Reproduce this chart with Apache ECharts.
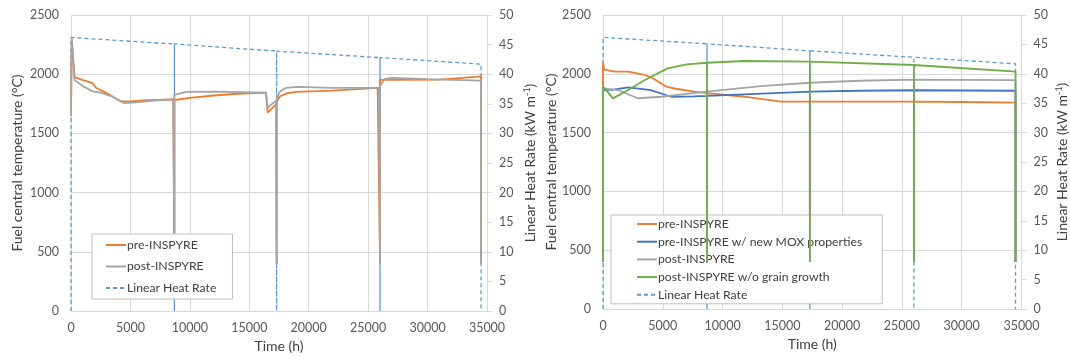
<!DOCTYPE html>
<html>
<head>
<meta charset="utf-8">
<script src="https://cdn.jsdelivr.net/npm/echarts@6/dist/echarts.min.js"></script>
<style>
html,body{margin:0;padding:0;background:#fff;}
#c{width:1070px;height:358px;}
</style>
</head>
<body>
<div id="c"></div>
<script>
// ---- data (time in h, temperature in °C, LHR in kW/m) ----
const xTicks = [0, 5000, 10000, 15000, 20000, 25000, 30000, 35000];

const lhr = [[0,0],[0,46.2],[8700,45.1],[8700,0],[8700,45.1],[17300,43.9],[17300,0],[17300,43.9],
  [26000,42.8],[26000,0],[26000,42.8],[34500,41.7],[34500,0]];

// left panel
const leftPre = [[0,1650],[60,2300],[300,1975],[1000,1950],[1800,1925],[2100,1885],[3000,1840],[4200,1770],
  [5000,1770],[6000,1778],[7000,1783],[8600,1785],[8700,400],[8700,1782],[10000,1800],[12000,1820],
  [14000,1835],[16400,1845],[16550,1675],[16800,1700],[17250,1745],[17300,400],[17300,1765],[17550,1812],
  [18200,1840],[19000,1850],[22000,1862],[25800,1885],[26000,400],[26000,1952],[27900,1952],[28000,1938],
  [31000,1955],[34000,1978],[34500,1982],[34500,400]];
const leftPost = [[0,1650],[60,2300],[300,1950],[1000,1900],[1800,1855],[2500,1845],[3500,1810],[4500,1755],
  [5500,1762],[7000,1778],[8600,1790],[8700,400],[8700,1825],[9700,1850],[12000,1852],[16400,1845],
  [16550,1715],[16800,1740],[17250,1775],[17300,400],[17300,1800],[17600,1855],[18100,1885],[19000,1893],
  [22000,1885],[25900,1885],[26000,400],[26000,1900],[26400,1960],[27000,1968],[30000,1958],[34500,1945],[34500,400]];

// right panel
const rightPre = [[0,400],[0,2100],[100,2035],[1000,2018],[2100,2018],[3500,1990],[4200,1960],[5300,1890],
  [6000,1875],[7600,1848],[8700,1835],[8700,400],[8700,1835],[11800,1805],[14900,1763],[17300,1763],
  [17300,400],[17300,1763],[26000,1763],[26000,400],[26000,1763],[30000,1760],[34500,1755],[34500,400]];
const rightPreMox = [[0,400],[0,1860],[1000,1868],[2100,1885],[4000,1862],[5700,1805],[7600,1808],[8700,1812],
  [8700,400],[8700,1812],[11800,1825],[17300,1848],[17300,400],[17300,1848],[21500,1856],[26000,1860],
  [26000,400],[26000,1860],[34500,1856],[34500,400]];
const rightPost = [[0,400],[0,1875],[1250,1862],[2900,1792],[4900,1805],[8700,1848],[8700,400],[8700,1848],
  [13200,1896],[17300,1924],[17300,400],[17300,1924],[21500,1941],[26000,1950],[26000,400],[26000,1950],
  [34500,1947],[34500,400]];
const rightPostNoGG = [[0,400],[0,1890],[200,1870],[830,1791],[2100,1862],[3500,1947],[5400,2046],[7000,2080],
  [8700,2094],[8700,400],[8700,2094],[11800,2109],[17300,2103],[17300,400],[17300,2103],[26000,2075],
  [26000,400],[26000,2075],[34500,2018],[34500,400]];

const FONT = 'Lato, "Open Sans", sans-serif';
const C_OR = '#ed7d31', C_GR = '#a5a5a5', C_BL = '#4472c4', C_GN = '#70ad47', C_LHR = '#5b9bd5';
const GRID_C = '#d9d9d9';
const lbl = {color:'#595959', fontFamily:FONT, fontSize:12.5, formatter: v => String(v)};
const nameStyle = {color:'#404040', fontFamily:FONT, fontSize:14,
  rich:{sup:{fontSize:9, verticalAlign:'top', color:'#404040', fontFamily:FONT, padding:[0,0,6,0]}}};

function xAxis(gi){
  return {type:'value', gridIndex:gi, min:0, max:35000, interval:5000,
    name:'Time (h)', nameLocation:'middle', nameGap:28, nameTextStyle:nameStyle,
    axisLine:{show:true, lineStyle:{color:GRID_C}}, axisTick:{show:false},
    axisLabel:{...lbl, margin:10}, splitLine:{show:true, lineStyle:{color:GRID_C}}};
}
function yTemp(gi, gap){
  return {type:'value', gridIndex:gi, min:0, max:2500, interval:500, position:'left',
    name:'Fuel central temperature (°C)', nameLocation:'middle', nameGap:gap, nameTextStyle:nameStyle,
    axisLine:{show:false}, axisTick:{show:false}, axisLabel:{...lbl, margin:12},
    splitLine:{show:true, lineStyle:{color:GRID_C}}};
}
function yLhr(gi, gap){
  return {type:'value', gridIndex:gi, min:0, max:50, interval:5, position:'right',
    name:'Linear Heat Rate (kW m{sup|-1})', nameLocation:'middle', nameGap:gap, nameTextStyle:nameStyle,
    axisLine:{show:false}, axisTick:{show:true, length:5, lineStyle:{color:GRID_C}},
    axisLabel:{...lbl, margin:12}, splitLine:{show:false}};
}
function line(name, data, color, xi, yi, width, dashed, z){
  return {name, type:'line', data, xAxisIndex:xi, yAxisIndex:yi, symbol:'none', showSymbol:false, smooth:false,
    lineStyle:{color, width, type: dashed ? [4,3] : 'solid'}, itemStyle:{color}, z:z||2, animation:false};
}
const legendCommon = {orient:'vertical', itemWidth:20, itemHeight:12,
  borderColor:'#bfbfbf', borderWidth:1, backgroundColor:'#fff',
  itemStyle:{color:'transparent', borderWidth:0, opacity:0},
  textStyle:{color:'#404040', fontFamily:FONT, fontSize:12.2, padding:[0,0,0,-4]}};

const chart = echarts.init(document.getElementById('c'), null, {renderer:'canvas'});
chart.setOption({
  animation:false,
  backgroundColor:'#fff',
  grid:[
    {left:71, right:583, top:15, bottom:46},
    {left:603, right:47, top:15, bottom:49}
  ],
  xAxis:[xAxis(0), xAxis(1)],
  yAxis:[yTemp(0,47), yLhr(0,36), yTemp(1,43), yLhr(1,33)],
  legend:[
    {...legendCommon, left:92, top:234, itemGap:9.5, padding:[5,13,5,13],
     data:['pre-INSPYRE','post-INSPYRE','Linear Heat Rate ']},
    {...legendCommon, left:611, top:215, itemGap:5.7, padding:[3,20,3,25],
     data:['pre-INSPYRE ','pre-INSPYRE w/ new MOX properties','post-INSPYRE ','post-INSPYRE w/o grain growth','Linear Heat Rate']}
  ],
  series:[
    line('Linear Heat Rate ', lhr, C_LHR, 0, 1, 1.3, true, 1),
    line('pre-INSPYRE', leftPre, C_OR, 0, 0, 1.8, false, 2),
    line('post-INSPYRE', leftPost, C_GR, 0, 0, 1.8, false, 3),
    line('Linear Heat Rate', lhr, C_LHR, 1, 3, 1.3, true, 1),
    line('pre-INSPYRE ', rightPre, C_OR, 1, 2, 1.8, false, 2),
    line('pre-INSPYRE w/ new MOX properties', rightPreMox, C_BL, 1, 2, 1.8, false, 3),
    line('post-INSPYRE ', rightPost, C_GR, 1, 2, 1.8, false, 4),
    line('post-INSPYRE w/o grain growth', rightPostNoGG, C_GN, 1, 2, 1.8, false, 5)
  ]
});
</script>
</body>
</html>
